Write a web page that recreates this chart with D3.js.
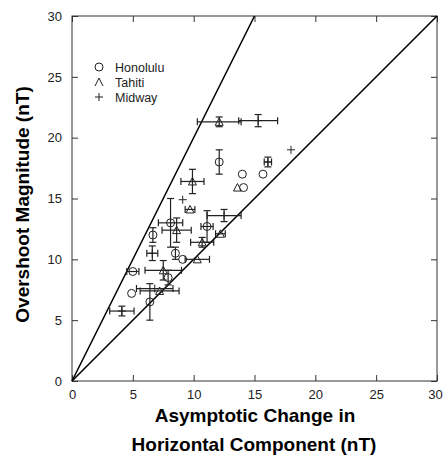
<!DOCTYPE html>
<html>
<head>
<meta charset="utf-8">
<script src="https://cdn.jsdelivr.net/npm/d3@7"></script>
<style>
  body { margin: 0; background: #fff; }
  text { font-family: "Liberation Sans", Arial, sans-serif; }
</style>
</head>
<body>
<svg></svg>
<script>
// [x, y, xErr, yErr]
let honolulu = [
    [12.1, 18.0, 0, 1.0],
    [14.0, 17.0, 0, 0],
    [15.7, 17.0, 0, 0],
    [14.1, 15.9, 0, 0],
    [11.1, 12.7, 0.5, 1.3],
    [8.1, 13.0, 1.0, 2.0],
    [6.65, 12.0, 0, 0.6],
    [8.5, 10.5, 0, 0.5],
    [9.1, 10.0, 0, 0],
    [5.0, 9.0, 0.5, 0],
    [7.9, 8.5, 0, 0.6],
    [4.9, 7.2, 0, 0],
    [6.4, 6.5, 0, 1.5]
];
let tahiti = [
    [12.1, 21.3, 1.8, 0.4],
    [9.9, 16.4, 0.95, 1.0],
    [9.7, 14.1, 0.4, 0],
    [13.6, 15.9, 0, 0],
    [8.6, 12.4, 1.2, 1.0],
    [10.7, 11.4, 0.95, 0.4],
    [12.2, 12.1, 0.4, 0],
    [10.3, 10.0, 1.0, 0],
    [7.5, 9.1, 1.5, 0.8],
    [7.2, 7.4, 1.6, 0]
];
let midway = [
    [15.3, 21.4, 1.6, 0.5],
    [16.1, 18.0, 0.3, 0.4],
    [18.0, 19.0, 0, 0],
    [9.1, 14.9, 0, 0],
    [12.5, 13.6, 1.4, 0.5],
    [6.6, 10.5, 0.45, 0.6],
    [6.8, 7.6, 1.5, 0],
    [4.1, 5.75, 1.0, 0.4]
];
let refSlopes = [2, 1];
let ticks = [0, 5, 10, 15, 20, 25, 30];
let legendNames = ["Honolulu", "Tahiti", "Midway"];

let svg = d3.select("svg").attr("width", 443).attr("height", 467);

let x = d3.scaleLinear().domain([0, 30]).range([72, 437]);
let y = d3.scaleLinear().domain([0, 30]).range([381, 16]);

// frame
svg.append("rect")
    .attr("x", x(0)).attr("y", y(30))
    .attr("width", x(30) - x(0)).attr("height", y(0) - y(30))
    .style("fill", "none").style("stroke", "#333").style("stroke-width", 1);

function styleAxis(g, labels) {
    g.select(".domain").remove();
    g.selectAll(".tick line").style("stroke", "#333");
    g.selectAll("text")
        .style("font-family", "'Liberation Sans Narrow', 'Liberation Sans', sans-serif")
        .style("font-size", "13px").style("fill", "#222");
    if (!labels) g.selectAll("text").remove();
}

svg.append("g").attr("transform", `translate(0,${y(0)})`)
    .call(d3.axisBottom(x).tickValues(ticks).tickSize(-6).tickPadding(9))
    .call(g => styleAxis(g, true))
    .call(g => g.selectAll("text").filter(d => d === 30).attr("dx", -2));
svg.append("g").attr("transform", `translate(0,${y(30)})`)
    .call(d3.axisTop(x).tickValues(ticks).tickSize(-6))
    .call(g => styleAxis(g, false));
svg.append("g").attr("transform", `translate(${x(0)},0)`)
    .call(d3.axisLeft(y).tickValues(ticks).tickSize(-6).tickPadding(10))
    .call(g => styleAxis(g, true));
svg.append("g").attr("transform", `translate(${x(30)},0)`)
    .call(d3.axisRight(y).tickValues(ticks).tickSize(-6))
    .call(g => styleAxis(g, false));

// reference lines through origin
refSlopes.forEach(s => {
    let xEnd = Math.min(30, 30 / s);
    svg.append("line")
        .attr("x1", x(0)).attr("y1", y(0))
        .attr("x2", x(xEnd)).attr("y2", y(xEnd * s))
        .style("stroke", "#000").style("stroke-width", 1.6);
});

// error bars
let bars = svg.append("g").style("stroke", "#222").style("stroke-width", 1.2);
function drawErrors(data) {
    data.forEach(([dx, dy, xe, ye]) => {
        if (xe > 0) {
            bars.append("line").attr("x1", x(dx - xe)).attr("x2", x(dx + xe))
                .attr("y1", y(dy)).attr("y2", y(dy));
            [dx - xe, dx + xe].forEach(v => bars.append("line")
                .attr("x1", x(v)).attr("x2", x(v))
                .attr("y1", y(dy) - 3.5).attr("y2", y(dy) + 3.5));
        }
        if (ye > 0) {
            bars.append("line").attr("x1", x(dx)).attr("x2", x(dx))
                .attr("y1", y(dy - ye)).attr("y2", y(dy + ye));
            [dy - ye, dy + ye].forEach(v => bars.append("line")
                .attr("x1", x(dx) - 3.5).attr("x2", x(dx) + 3.5)
                .attr("y1", y(v)).attr("y2", y(v)));
        }
    });
}
drawErrors(honolulu);
drawErrors(tahiti);
drawErrors(midway);

// marker shapes
function circleMark(g, cx, cy) {
    g.append("circle").attr("cx", cx).attr("cy", cy).attr("r", 4)
        .style("fill", "none").style("stroke", "#222").style("stroke-width", 1);
}
function triangleMark(g, cx, cy, open) {
    let p = open ? `M${cx - 4},${cy + 4}L${cx},${cy - 4}L${cx + 4},${cy + 4}`
                 : `M${cx - 4},${cy + 3.5}L${cx},${cy - 4}L${cx + 4},${cy + 3.5}Z`;
    g.append("path").attr("d", p)
        .style("fill", "none").style("stroke", "#222").style("stroke-width", 1);
}
function plusMark(g, cx, cy) {
    g.append("path").attr("d", `M${cx - 4},${cy}H${cx + 4}M${cx},${cy - 4}V${cy + 4}`)
        .style("stroke", "#222").style("stroke-width", 1);
}

let marks = svg.append("g");
honolulu.forEach(d => circleMark(marks, x(d[0]), y(d[1])));
tahiti.forEach(d => triangleMark(marks, x(d[0]), y(d[1]), false));
midway.forEach(d => plusMark(marks, x(d[0]), y(d[1])));

// legend
let legend = svg.append("g");
let markFns = [
    (g, cx, cy) => circleMark(g, cx, cy),
    (g, cx, cy) => triangleMark(g, cx, cy, true),
    (g, cx, cy) => plusMark(g, cx, cy)
];
legendNames.forEach((name, i) => {
    let ly = 67 + i * 15;
    markFns[i](legend, 99, ly);
    legend.append("text").attr("x", 115).attr("y", ly + 4.5)
        .style("font-size", "12.5px").style("fill", "#222").text(name);
});

// axis titles
svg.append("text")
    .attr("transform", `translate(29,${(y(0) + y(30)) / 2 + 6}) rotate(-90)`)
    .attr("text-anchor", "middle")
    .style("font-size", "19px").style("font-weight", "bold")
    .text("Overshoot Magnitude (nT)");
svg.append("text").attr("x", 255).attr("y", 422)
    .attr("text-anchor", "middle")
    .style("font-size", "19px").style("font-weight", "bold")
    .text("Asymptotic Change in");
svg.append("text").attr("x", 254).attr("y", 451)
    .attr("text-anchor", "middle")
    .style("font-size", "19px").style("font-weight", "bold")
    .text("Horizontal Component (nT)");
</script>
</body>
</html>
